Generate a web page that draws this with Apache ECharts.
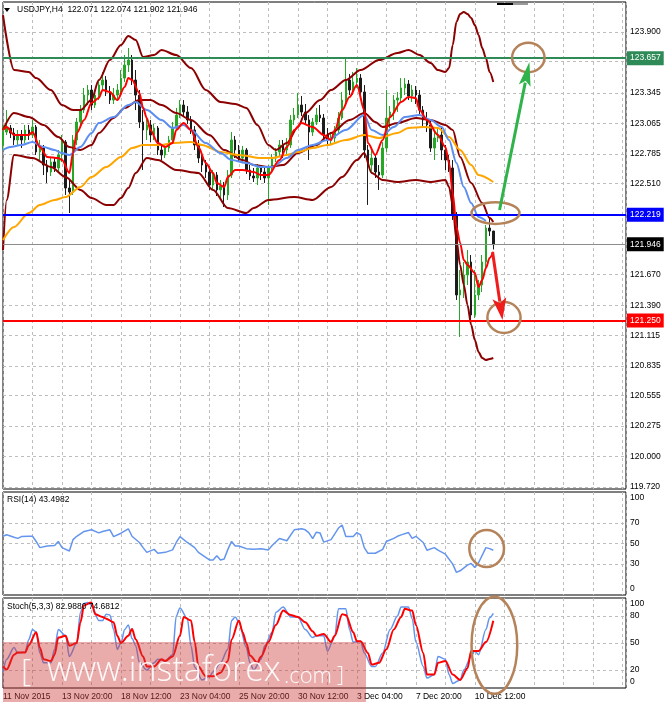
<!DOCTYPE html>
<html>
<head>
<meta charset="utf-8">
<script src="https://cdn.jsdelivr.net/npm/echarts@6.0.0/dist/echarts.min.js"></script>
<style>
html,body{margin:0;padding:0;background:#fff;}
#chart{width:665px;height:705px;}
</style>
</head>
<body>
<div id="chart"></div>
<script>
// ================= DATA =================
const timeLabels = ['11 Nov 2015','13 Nov 20:00','18 Nov 12:00','23 Nov 04:00','25 Nov 20:00','30 Nov 12:00','3 Dec 04:00','7 Dec 20:00','10 Dec 12:00'];
const barsPerLabel = 16;
const totalSlots = 170;

const candleOpen = [
122.862,122.981,123.018,122.972,122.908,122.954,122.908,123.000,122.954,123.027,
122.798,122.834,122.678,122.614,122.706,122.651,122.770,122.889,122.467,122.430,
122.908,123.073,123.183,123.321,123.367,123.229,123.321,123.413,123.459,123.349,
123.275,123.321,123.367,123.477,123.597,123.643,123.459,123.321,123.073,123.000,
123.046,122.954,123.018,122.816,122.770,122.834,122.908,123.018,123.137,123.229,
123.165,123.092,123.000,122.862,122.742,122.678,122.614,122.494,122.586,122.449,
122.485,122.403,122.586,122.908,122.816,122.742,122.816,122.632,122.577,122.559,
122.651,122.614,122.559,122.651,122.742,122.798,122.862,122.816,122.862,123.092,
123.137,123.229,123.165,123.092,122.981,123.073,123.137,123.110,122.954,122.908,
122.926,123.000,123.110,123.275,123.459,123.367,123.441,123.477,123.349,122.816,
122.678,122.742,122.614,122.586,122.834,123.110,123.165,123.275,123.294,123.386,
123.422,123.312,123.367,123.321,123.183,123.092,123.046,122.834,122.926,122.954,
122.816,122.724,122.651,122.219,121.484,121.530,121.668,121.787,121.300,121.484,
121.576,121.787,122.099,122.071];
const candleClose = [
122.981,123.018,122.972,122.908,122.954,122.908,123.000,122.954,123.027,122.798,
122.834,122.678,122.614,122.706,122.651,122.770,122.889,122.467,122.430,122.908,
123.073,123.183,123.321,123.367,123.229,123.321,123.413,123.459,123.349,123.275,
123.321,123.367,123.477,123.597,123.643,123.459,123.321,123.073,123.000,123.046,
122.954,123.018,122.816,122.770,122.834,122.908,123.018,123.137,123.229,123.165,
123.092,123.000,122.862,122.742,122.678,122.614,122.494,122.586,122.449,122.485,
122.403,122.586,122.908,122.816,122.742,122.816,122.632,122.577,122.559,122.651,
122.614,122.559,122.651,122.742,122.798,122.862,122.816,122.862,123.092,123.137,
123.229,123.165,123.092,122.981,123.073,123.137,123.110,122.954,122.908,122.926,
123.000,123.110,123.275,123.459,123.367,123.441,123.477,123.349,122.816,122.678,
122.742,122.614,122.586,122.834,123.110,123.165,123.275,123.294,123.386,123.422,
123.312,123.367,123.321,123.183,123.092,123.046,122.834,122.926,122.954,122.816,
122.724,122.651,122.219,121.484,121.530,121.668,121.787,121.300,121.484,121.576,
121.787,122.099,122.071,121.946];
const candleLow = [
122.816,122.954,122.926,122.862,122.862,122.834,122.880,122.908,122.926,122.770,
122.706,122.586,122.513,122.577,122.614,122.614,122.706,122.403,122.237,122.403,
122.862,123.018,123.156,123.229,123.183,123.202,123.275,123.367,123.312,123.239,
123.239,123.275,123.330,123.441,123.533,123.413,123.183,123.018,122.632,122.908,
122.889,122.908,122.770,122.724,122.742,122.798,122.871,123.000,123.110,123.128,
123.055,122.963,122.816,122.697,122.614,122.559,122.449,122.449,122.393,122.357,
122.292,122.357,122.559,122.742,122.706,122.697,122.596,122.540,122.522,122.494,
122.540,122.513,122.311,122.614,122.706,122.761,122.742,122.770,122.834,123.046,
123.110,123.128,123.055,122.724,122.945,123.046,123.073,122.908,122.871,122.862,
122.889,122.963,123.092,123.239,123.321,123.321,123.386,123.294,122.742,122.311,
122.614,122.559,122.449,122.559,122.798,123.018,123.092,123.165,123.248,123.321,
123.275,123.257,123.239,123.147,123.036,122.981,122.798,122.724,122.889,122.724,
122.632,122.614,122.173,121.438,121.098,121.456,121.576,121.254,121.273,121.438,
121.511,121.732,122.026,121.902];
const candleHigh = [
123.046,123.183,123.046,123.018,123.000,123.000,123.046,123.046,123.092,123.046,
122.908,122.862,122.724,122.742,122.742,122.816,122.954,122.908,122.540,122.954,
123.110,123.229,123.386,123.413,123.413,123.367,123.459,123.533,123.496,123.404,
123.386,123.422,123.551,123.689,123.753,123.689,123.551,123.367,123.183,123.110,
123.092,123.055,123.036,122.862,122.871,122.945,123.073,123.202,123.275,123.275,
123.220,123.128,123.036,122.908,122.798,122.724,122.669,122.632,122.614,122.540,
122.522,122.632,122.981,122.945,122.862,122.853,122.834,122.678,122.651,122.687,
122.678,122.651,122.678,122.779,122.834,122.908,122.908,122.926,123.137,123.202,
123.340,123.312,123.239,123.137,123.110,123.202,123.229,123.147,123.018,122.981,
123.036,123.165,123.349,123.661,123.514,123.533,123.569,123.514,123.413,122.862,
122.816,122.770,122.678,122.889,123.367,123.220,123.321,123.349,123.477,123.477,
123.459,123.413,123.404,123.367,123.220,123.165,123.092,122.981,123.018,123.018,
122.862,122.770,122.724,122.246,121.713,121.787,121.897,121.851,121.713,121.622,
121.851,122.127,122.200,122.074];

// indicator readings: [bar index, value]
const fastMa = [[0,123.000],[1,123.027],[3,122.954],[5,122.954],[7,122.954],[8,122.981],[10,122.843],[12,122.752],[15,122.742],[16,122.724],[18,122.605],[19,122.788],[20,122.972],[22,123.092],[24,123.248],[26,123.294],[27,123.367],[29,123.349],[31,123.275],[33,123.395],[34,123.477],[35,123.459],[37,123.340],[38,123.202],[39,123.110],[40,123.000],[42,122.880],[44,122.843],[46,122.880],[47,123.000],[49,123.064],[51,123.000],[53,122.843],[55,122.697],[57,122.605],[58,122.513],[60,122.476],[61,122.568],[63,122.632],[65,122.632],[68,122.614],[70,122.586],[72,122.586],[75,122.724],[77,122.843],[79,123.000],[81,123.064],[84,123.027],[87,122.954],[89,122.908],[90,123.000],[92,123.183],[94,123.303],[96,123.413],[98,123.183],[99,122.880],[101,122.770],[103,122.908],[105,123.119],[108,123.257],[110,123.303],[112,123.294],[113,123.183],[115,123.092],[118,122.954],[120,122.843],[121,122.697],[122,122.421],[123,122.109],[124,121.962],[125,121.805],[126,121.760],[128,121.686],[129,121.557],[130,121.622],[131,121.732],[132,121.824],[133,121.879]];
const blueMa = [[0,122.816],[2,122.843],[5,122.862],[8,122.889],[11,122.843],[14,122.816],[16,122.788],[18,122.770],[21,122.843],[24,122.972],[26,123.064],[30,123.119],[34,123.229],[36,123.257],[39,123.183],[43,123.092],[46,123.018],[49,123.046],[51,123.000],[55,122.880],[59,122.788],[62,122.724],[66,122.697],[70,122.660],[73,122.660],[77,122.742],[80,122.816],[84,122.862],[88,122.908],[93,123.000],[98,123.137],[100,123.000],[103,122.954],[106,123.027],[109,123.119],[113,123.137],[116,123.092],[119,123.027],[121,122.908],[123,122.697],[125,122.476],[127,122.329],[129,122.200],[131,122.164]];
const orangeMa = [[0,121.989],[3,122.109],[7,122.237],[10,122.311],[14,122.357],[17,122.384],[21,122.476],[24,122.568],[28,122.660],[32,122.752],[35,122.834],[38,122.862],[43,122.862],[46,122.880],[51,122.889],[54,122.862],[59,122.798],[64,122.770],[70,122.742],[73,122.742],[77,122.770],[80,122.798],[84,122.834],[88,122.862],[93,122.908],[98,122.954],[102,122.926],[107,122.972],[110,123.018],[114,123.027],[118,123.018],[121,122.935],[124,122.816],[127,122.678],[129,122.586],[133,122.522]];
const bbUpper = [[0,124.056],[3,123.551],[7,123.533],[9,123.477],[13,123.367],[16,123.229],[19,123.183],[21,123.183],[24,123.275],[26,123.459],[29,123.643],[32,123.781],[34,123.863],[36,123.826],[38,123.670],[41,123.689],[43,123.735],[47,123.689],[51,123.569],[55,123.367],[59,123.257],[63,123.239],[66,123.202],[69,123.046],[72,122.862],[74,122.816],[77,122.880],[80,123.027],[82,123.156],[86,123.275],[89,123.367],[93,123.459],[97,123.551],[102,123.643],[107,123.707],[110,123.735],[113,123.689],[116,123.615],[118,123.551],[120,123.533],[121,123.569],[122,123.781],[123,123.992],[124,124.065],[125,124.084],[126,124.065],[127,124.029],[128,123.964],[129,123.873],[130,123.753],[131,123.661],[132,123.533],[133,123.441]];
const bbMiddle = [[0,123.000],[3,123.156],[7,123.119],[11,123.046],[15,122.935],[18,122.843],[21,122.816],[24,122.862],[26,122.972],[30,123.110],[33,123.202],[37,123.275],[40,123.275],[43,123.229],[47,123.156],[51,123.092],[56,122.954],[60,122.816],[65,122.724],[68,122.678],[72,122.660],[76,122.678],[80,122.788],[85,122.862],[89,122.972],[94,123.092],[98,123.156],[101,123.073],[103,123.027],[107,123.064],[112,123.110],[116,123.092],[120,123.046],[122,123.000],[124,122.752],[127,122.513],[130,122.329],[132,122.191],[133,122.155]];
const bbLower = [[0,121.897],[1,122.357],[3,122.770],[8,122.742],[13,122.660],[17,122.568],[21,122.449],[24,122.375],[28,122.311],[30,122.311],[32,122.375],[34,122.467],[36,122.605],[39,122.742],[42,122.724],[47,122.632],[53,122.605],[57,122.449],[61,122.283],[66,122.237],[68,122.283],[72,122.357],[79,122.384],[84,122.357],[89,122.476],[92,122.568],[96,122.724],[98,122.788],[100,122.605],[103,122.540],[107,122.522],[112,122.540],[116,122.522],[120,122.540],[121,122.476],[122,122.311],[123,121.989],[124,121.760],[125,121.576],[126,121.392],[127,121.208],[128,121.070],[129,120.960],[130,120.905],[131,120.887],[132,120.896],[133,120.905]];
const rsi14 = [[0,57],[1,58.5],[3,56],[4,55],[5,56.7],[7,57],[8,57],[9,52],[10,46],[12,47.5],[14,48],[15,52],[16,46],[18,42.7],[19,53.8],[20,57],[22,61.7],[24,63.3],[26,60.3],[27,61.7],[29,63.3],[30,56.7],[32,60],[34,64.3],[35,57],[37,51],[38,46],[39,41.4],[41,44.3],[42,40.5],[44,41.4],[46,43.8],[47,51],[48,56.7],[50,51],[52,46],[53,41.4],[56,34],[57,34],[58,38],[59,34],[60,35],[61,44.3],[62,52],[63,47.6],[64,47.6],[66,45],[68,44.3],[70,45],[72,43.8],[73,48],[75,54.8],[77,52.7],[79,63.3],[81,64.3],[82,63.3],[83,60.3],[84,54.8],[85,61],[86,60.3],[87,51.3],[89,53.8],[91,65],[92,68],[93,56.7],[95,56.7],[96,60.6],[97,58.4],[98,46],[99,40.5],[101,40.5],[103,44.3],[104,52],[106,55],[107,57],[108,58.4],[110,60.6],[111,55],[112,57],[114,51],[115,43.5],[117,46],[118,43.5],[120,39.6],[122,30],[123,22],[124,23.5],[126,29],[127,30.7],[128,26.7],[129,31.3],[131,46],[132,45],[133,43.5]];
const stochK = [[0,18],[1,32],[3,45],[4,39],[6,40],[7,54],[8,65],[9,62],[10,39],[11,28],[13,28],[14,43],[15,65],[17,58],[18,35],[20,50],[21,84],[22,94],[23,95],[24,92],[26,75],[27,75],[28,82],[29,81],[30,65],[31,43],[32,50],[33,65],[34,70],[35,55],[36,47],[37,28],[39,20],[41,28],[42,32],[44,30],[46,37],[47,80],[48,89],[50,77],[51,47],[52,23],[54,9],[56,13],[57,18],[59,28],[61,43],[62,75],[63,79],[64,73],[66,45],[67,28],[68,20],[70,32],[71,47],[73,62],[74,84],[76,90],[78,79],[80,79],[82,65],[84,56],[85,58],[87,58],[88,41],[90,58],[91,88],[93,88],[94,65],[95,51],[97,52],[98,39],[100,24],[101,24],[103,39],[105,65],[107,80],[108,90],[110,90],[111,77],[112,51],[114,24],[115,11],[117,15],[118,35],[120,32],[121,15],[122,5],[124,9],[125,20],[127,35],[128,41],[129,37],[131,65],[132,78],[133,83]];
const stochD = [[0,24],[1,20.5],[3,37],[4,39.5],[6,39.5],[7,47.5],[9,62],[10,45],[11,32],[13,30],[14,37],[15,56],[17,58],[18,47],[20,50],[21,73],[22,92],[24,95],[25,82],[27,79],[28,77],[30,73],[31,58],[32,50],[34,58],[35,65.5],[36,54],[38,35],[39,24],[41,24],[43,32],[44,30],[46,35],[48,58],[49,79],[51,75],[52,51],[53,24],[55,13],[57,13],[59,17],[61,30],[62,54],[64,75],[65,62],[66,50],[67,36],[69,28],[70,35],[72,51],[74,70],[76,86],[78,81],[80,79],[82,73],[84,63],[85,58],[87,60],[89,51],[90,58],[92,82],[93,81],[95,62],[96,52],[97,52],[99,39],[100,26],[102,28],[104,43],[106,65],[108,79],[109,88],[111,86],[112,70],[114,39],[115,15],[117,15],[118,28],[120,30],[122,15],[124,9],[126,22],[127,41],[129,41],[131,51],[133,74.7]];

const priceTicks = [123.900,123.625,123.345,123.065,122.785,122.510,122.230,121.950,121.670,121.390,121.115,120.835,120.555,120.275,120.000,119.720];
const levelPrices = {resistance:123.657, pivot:122.219, bid:121.946, support:121.250};
const rsiTicks = [100,70,50,30,0];
const stochTicks = [100,80,50,20,0];
const headerText = 'USDJPY,H4  122.071 122.074 121.902 121.946';
const rsiTitle = 'RSI(14) 43.4982';
const stochTitle = 'Stoch(5,3,3) 82.9880 74.6812';
const watermark = ['[', 'www.instaforex', '.com', ']'];

// annotation anchors in data units: [bar index, value], radii [bars, value]
const annotations = {
  ellipsesMain: [{c:[142.5,123.666], r:[4.4,0.135]}, {c:[133.6,122.237], r:[6.5,0.10]}, {c:[135.9,121.277], r:[4.5,0.142]}],
  ellipseRsi: {c:[131.2,45.2], r:[4.7,18]},
  ellipseStoch: {c:[133.3,47.5], r:[6.2,54]},
  arrowUp: {from:[134.7,122.265], to:[142.8,123.624]},
  arrowDown: {from:[132.8,121.879], to:[135.5,121.254]}
};

// ================= STYLE =================
const FONT = '"Liberation Sans", Arial, sans-serif';
const WFONT = '"Open Sans", "Noto Sans", sans-serif';
const FS = 8.5;
const GRID_DASH = {type:[3,3], color:'#bdbdbd', width:1};
const G = [
  {left:3, right:39, top:2, height:487},
  {left:3, right:39, top:492, height:103},
  {left:3, right:39, top:598, height:90}
];

const categories = Array.from({length: totalSlots}, (_, k) => k);
const candles = candleOpen.map((o, k) => [o, candleClose[k], candleLow[k], candleHigh[k]]);

function lineSeries(name, data, xi, yi, color, width, smooth, extra) {
  return Object.assign({
    name, type:'line', data, xAxisIndex:xi, yAxisIndex:yi,
    showSymbol:false, symbol:'none', smooth: smooth, smoothMonotone:'x',
    lineStyle:{color, width}, silent:true, animation:false, z:3
  }, extra || {});
}

const near = v => Object.values(levelPrices).some(l => Math.abs(l - v) < 0.02);

const gridMarkLine = {
  silent:true, symbol:['none','none'], z:1, animation:false,
  lineStyle: GRID_DASH,
  label:{position:'end', distance:4, color:'#000', fontSize:FS, fontFamily:FONT},
  data: priceTicks.map(v => ({yAxis:v, label:{show: !near(v), formatter: v.toFixed(3)}}))
};

function levelItem(v, color, lineW, textColor) {
  return {yAxis:v, lineStyle:{color, width:lineW, type:'solid'},
    label:{show:true, position:'end', distance:1, formatter:v.toFixed(3), color:textColor,
      backgroundColor:color, padding:[3,3,2,3], fontSize:FS, fontFamily:FONT}};
}
const levelMarkLine = {
  silent:true, symbol:['none','none'], z:6, animation:false,
  data:[
    levelItem(levelPrices.resistance, '#2e8b57', 2, '#fff'),
    levelItem(levelPrices.pivot, '#0000ff', 2, '#fff'),
    Object.assign(levelItem(levelPrices.bid, '#000000', 1, '#fff'), {lineStyle:{color:'#8c8c8c', width:1, type:'solid'}}),
    levelItem(levelPrices.support, '#ff0000', 2, '#fff')
  ]
};

function oscMarkLine(ticks) {
  return {
    silent:true, symbol:['none','none'], z:1, animation:false,
    lineStyle: GRID_DASH,
    label:{position:'end', distance:4, color:'#000', fontSize:FS, fontFamily:FONT, lineHeight:12},
    data: ticks.map(v => {
      const edge = (v === 100 || v === 0);
      return {yAxis:v,
        lineStyle: edge ? {color:'rgba(0,0,0,0)', width:1, type:'solid'} : undefined,
        label:{show:true, color:'#000', formatter: v === 100 ? '\n100' : (v === 0 ? '0\n' : String(v))}};
    })
  };
}

const xLabelFmt = v => {
  const k = v / barsPerLabel;
  return (Number.isInteger(k) && k < timeLabels.length) ? timeLabels[k] : '';
};

const valueX = (gi, showLabels) => ({
  type:'value', gridIndex:gi, min:0, max:totalSlots - 1, interval:8,
  axisLine:{show:false}, axisTick:{show:false},
  splitLine:{show:true, lineStyle:GRID_DASH},
  axisLabel: showLabels ? {show:true, formatter:xLabelFmt, align:'left', margin:4, color:'#000', fontSize:FS, fontFamily:FONT} : {show:false}
});

const option = {
  animation:false,
  backgroundColor:'#ffffff',
  grid: G.map(g => Object.assign({show:true, borderColor:'#000', borderWidth:1, backgroundColor:'transparent', containLabel:false, outerBoundsMode:'none'}, g)),
  xAxis: [
    {type:'category', gridIndex:0, data:categories, boundaryGap:false, show:false},
    valueX(0, false),
    valueX(1, false),
    valueX(2, true)
  ],
  yAxis: [
    {type:'value', gridIndex:0, min:119.701, max:124.176, show:false, scale:true},
    {type:'value', gridIndex:1, min:0, max:100, show:false},
    {type:'value', gridIndex:2, min:0, max:100, show:false}
  ],
  series: [
    {name:'USDJPY', type:'candlestick', xAxisIndex:0, yAxisIndex:0, data:candles, barWidth:2, silent:true, z:2,
      itemStyle:{color:'#26a826', color0:'#1c1c1c', borderColor:'#26a826', borderColor0:'#1c1c1c', borderWidth:1}},
    lineSeries('BB upper', bbUpper, 1, 0, '#8b0000', 2, 0.3),
    lineSeries('BB middle', bbMiddle, 1, 0, '#8b0000', 2, 0.3),
    lineSeries('BB lower', bbLower, 1, 0, '#8b0000', 2, 0.3),
    lineSeries('MA slow', orangeMa, 1, 0, '#ffa500', 2, 0.3, {markLine: gridMarkLine}),
    lineSeries('MA mid', blueMa, 1, 0, '#5b8ef0', 2, 0.3),
    lineSeries('MA fast', fastMa, 1, 0, '#ff0000', 2, 0.3, {markLine: levelMarkLine}),
    lineSeries('RSI', rsi14, 2, 1, '#6495ed', 1.5, false, {markLine: oscMarkLine(rsiTicks)}),
    lineSeries('Stoch K', stochK, 3, 2, '#6495ed', 1.5, 0.3, {markLine: oscMarkLine(stochTicks)}),
    lineSeries('Stoch D', stochD, 3, 2, '#ff0000', 2, 0.3)
  ]
};

const chart = echarts.init(document.getElementById('chart'));
chart.setOption(option);

// ================= OVERLAYS =================
const SER_MAIN = 6, SER_RSI = 7, SER_STOCH = 8;
const toPx = (s, p) => chart.convertToPixel({seriesIndex:s}, p);
function ellipseEl(s, e) {
  const c = toPx(s, e.c);
  const rx = toPx(s, [e.c[0] + e.r[0], e.c[1]]);
  const ry = toPx(s, [e.c[0], e.c[1] + e.r[1]]);
  return {type:'ellipse', z:100, silent:true,
    shape:{cx:c[0], cy:c[1], rx:Math.abs(rx[0]-c[0]), ry:Math.abs(ry[1]-c[1])},
    style:{fill:'none', stroke:'#b5835a', lineWidth:2.5}};
}
function arrowEls(a, color, width, headLen, headHalf) {
  const [x1,y1] = toPx(SER_MAIN, a.from), [x2,y2] = toPx(SER_MAIN, a.to);
  const dx = x2-x1, dy = y2-y1, len = Math.hypot(dx,dy), ux = dx/len, uy = dy/len;
  const bx = x2 - ux*headLen, by = y2 - uy*headLen, nx = -uy, ny = ux;
  return [
    {type:'line', z:100, silent:true, shape:{x1, y1, x2:bx+ux*3, y2:by+uy*3}, style:{stroke:color, lineWidth:width}},
    {type:'polygon', z:100, silent:true, shape:{points:[[x2,y2],[bx+nx*headHalf, by+ny*headHalf],[bx+ux*5, by+uy*5],[bx-nx*headHalf, by-ny*headHalf]]}, style:{fill:color}}
  ];
}

const txt = (x, y, text, extra) => Object.assign({type:'text', x, y, silent:true, z:60,
  style:Object.assign({text, fill:'#000', fontSize:FS, fontFamily:FONT, verticalAlign:'middle', align:'left'}, extra || {})});

const wm = (size) => ({fill:'rgba(255,255,255,0.92)', fontSize:size, fontFamily:WFONT, fontWeight:300});
const graphics = [
  {type:'polygon', silent:true, z:60, shape:{points:[[4,8],[10,8],[7,12]]}, style:{fill:'#000'}},
  txt(17, 10, headerText),
  txt(7, 500, rsiTitle),
  txt(7, 607, stochTitle),
  {type:'rect', silent:true, z:60, shape:{x:497, y:3, width:16, height:2}, style:{fill:'#000'}},
  {type:'rect', silent:true, z:60, shape:{x:513, y:3, width:15, height:2}, style:{fill:'#9a9a9a'}},
  // watermark band
  {type:'rect', silent:true, z:50, shape:{x:3, y:642, width:363, height:60}, style:{fill:'rgba(205,55,55,0.42)'}},
  txt(21, 672, watermark[0], wm(32)),
  txt(47, 671, watermark[1], wm(34)),
  txt(284, 677, watermark[2], wm(22)),
  txt(337, 676, watermark[3], wm(22))
];
annotations.ellipsesMain.forEach(e => graphics.push(ellipseEl(SER_MAIN, e)));
graphics.push(ellipseEl(SER_RSI, annotations.ellipseRsi));
graphics.push(ellipseEl(SER_STOCH, annotations.ellipseStoch));
graphics.push(...arrowEls(annotations.arrowUp, '#2fb34a', 3, 24, 6));
graphics.push(...arrowEls(annotations.arrowDown, '#f01c1c', 3, 22, 7));

chart.setOption({graphic: graphics});
</script>
</body>
</html>
